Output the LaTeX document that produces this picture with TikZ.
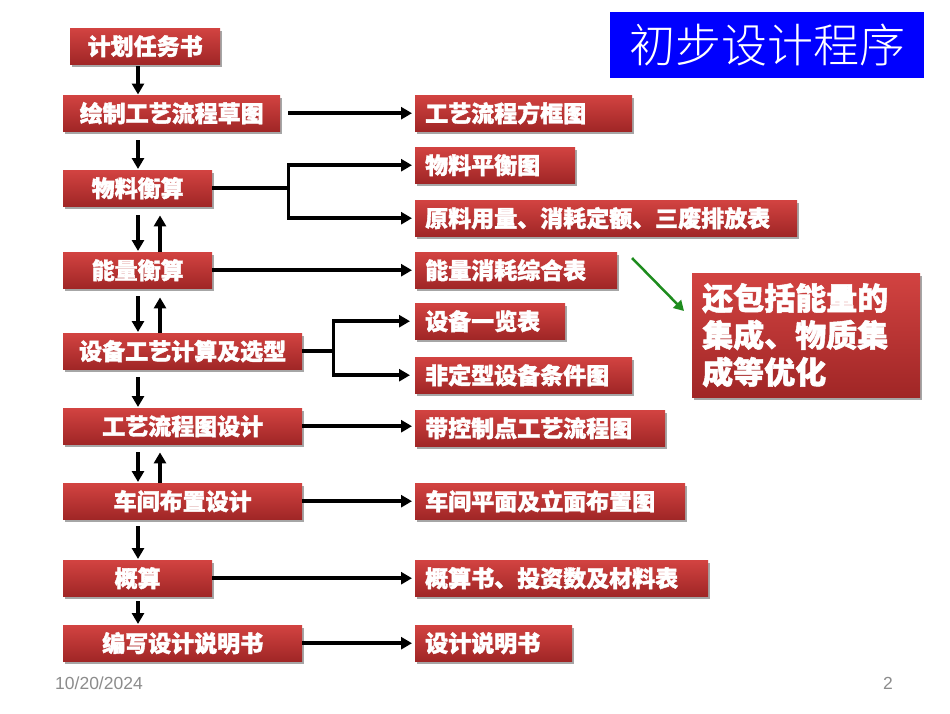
\documentclass[tikz,border=0pt]{standalone}
\usepackage{fontspec}
\newfontfamily\cjk{Noto Sans CJK SC}[BoldFeatures={FakeBold=1.6}]
\newfontfamily\cjklight{Noto Sans CJK SC Light}
\newfontfamily\datefont{Liberation Sans}
\usetikzlibrary{arrows.meta,shadows}
\definecolor{boxtop}{HTML}{D24341}
\definecolor{boxbot}{HTML}{A02626}
\definecolor{garrow}{HTML}{1E8C1E}
\definecolor{dategray}{HTML}{8C8C8C}
\begin{document}
\begin{tikzpicture}[x=1pt,y=-1pt,
  box/.style={rectangle, inner sep=0pt, minimum height=36pt, anchor=north west,
    top color=boxtop, bottom color=boxbot, draw=none,
    drop shadow={shadow xshift=1.5pt, shadow yshift=-2.5pt, opacity=0.35, fill=black},
    font=\cjk\bfseries\fontsize{23}{26}\selectfont, text=white},
  lbox/.style={box, minimum width=#1},
  rbox/.style={box, inner xsep=10pt, text width=#1, align=left},
  arr/.style={line width=3.5pt, -{Triangle[length=11pt,width=12pt]}},
  ln/.style={line width=3.5pt},
  garr/.style={line width=2.5pt, draw=garrow, -{Triangle[length=10pt,width=11pt]}}]
\useasboundingbox (0,0) rectangle (950,713);
\fill[white] (0,0) rectangle (950,713);

% title
\node[fill=blue, minimum width=314pt, minimum height=66pt, anchor=north west, inner sep=0pt,
  text=white, font=\cjklight\fontsize{46}{50}\selectfont] (t) at (610,12) {初步设计程序};

% left column
\node[lbox=150pt] (a1) at (70,28) {计划任务书};
\node[lbox=217pt] (a2) at (63,95) {绘制工艺流程草图};
\node[lbox=149pt] (a3) at (63,170) {物料衡算};
\node[lbox=149pt] (a4) at (63,252) {能量衡算};
\node[lbox=239pt] (a5) at (63,333) {设备工艺计算及选型};
\node[lbox=239pt] (a6) at (63,408) {工艺流程图设计};
\node[lbox=239pt] (a7) at (63,483) {车间布置设计};
\node[lbox=149pt] (a8) at (63,560) {概算};
\node[lbox=239pt] (a9) at (63,625) {编写设计说明书};

% right column
\node[rbox=197pt] (r1) at (415,95) {工艺流程方框图};
\node[rbox=140pt] (r2) at (415,147) {物料平衡图};
\node[rbox=362pt] (r3) at (415,200) {原料用量、消耗定额、三废排放表};
\node[rbox=182pt] (r4) at (415,252) {能量消耗综合表};
\node[rbox=130pt] (r5) at (415,303) {设备一览表};
\node[rbox=197pt] (r6) at (415,357) {非定型设备条件图};
\node[rbox=230pt] (r7) at (415,410) {带控制点工艺流程图};
\node[rbox=250pt] (r8) at (415,483) {车间平面及立面布置图};
\node[rbox=273pt] (r9) at (415,560) {概算书、投资数及材料表};
\node[rbox=137pt] (r10) at (415,625) {设计说明书};

% callout
\node[box, minimum width=228pt, minimum height=124pt, text width=208pt, inner xsep=10pt,
  align=left, font=\cjk\bfseries\fontsize{31}{37}\selectfont] (c) at (692,273)
  {还包括能量的\\集成、物质集\\成等优化};

% footer
\node[anchor=west, inner sep=0pt, text=dategray, font=\datefont\fontsize{17.5}{19}\selectfont] (d) at (55,683) {10/20/2024};
\node[anchor=center, inner sep=0pt, text=dategray, font=\datefont\fontsize{17.5}{19}\selectfont] (p) at (888,683) {2};

% vertical connectors
\coordinate (dx) at (138,0);
\coordinate (ux) at (160,0);
\draw[arr, shorten <=2pt, shorten >=0.5pt] (a1.south -| dx) -- (a2.north -| dx);
\draw[arr, shorten <=9pt, shorten >=1pt] (a2.south -| dx) -- (a3.north -| dx);
\draw[arr, shorten <=9pt, shorten >=1pt] (a3.south -| dx) -- (a4.north -| dx);
\draw[arr, shorten >=9pt] (a4.north -| ux) -- (a3.south -| ux);
\draw[arr, shorten <=8pt, shorten >=1pt] (a4.south -| dx) -- (a5.north -| dx);
\draw[arr, shorten >=9pt] (a5.north -| ux) -- (a4.south -| ux);
\draw[arr, shorten <=8pt, shorten >=1pt] (a5.south -| dx) -- (a6.north -| dx);
\draw[arr, shorten <=8pt, shorten >=1pt] (a6.south -| dx) -- (a7.north -| dx);
\draw[arr, shorten >=8pt] (a7.north -| ux) -- (a6.south -| ux);
\draw[arr, shorten <=7pt, shorten >=1pt] (a7.south -| dx) -- (a8.north -| dx);
\draw[arr, shorten <=5pt, shorten >=1pt] (a8.south -| dx) -- (a9.north -| dx);

% horizontal connectors
\draw[arr, shorten <=8pt, shorten >=3pt] (a2.east) -- (r1.west);
\draw[ln] (a3.east) -- ++(76,0) coordinate (b1);
\draw[arr, shorten >=3pt] (b1) |- (r2.west);
\draw[arr, shorten >=3pt] (b1) |- (r3.west);
\draw[arr, shorten >=3pt] (a4.east) -- (a4.east -| r4.west);
\draw[ln] (a5.east) -- ++(31,0) coordinate (b2);
\draw[arr, shorten >=5pt] (b2) |- (r5.west);
\draw[arr, shorten >=5pt] (b2) |- (r6.west);
\draw[arr, shorten >=3pt] (a6.east) -- (a6.east -| r7.west);
\draw[arr, shorten >=3pt] (a7.east) -- (a7.east -| r8.west);
\draw[arr, shorten >=3pt] (a8.east) -- (a8.east -| r9.west);
\draw[arr, shorten >=3pt] (a9.east) -- (a9.east -| r10.west);

% green arrow
\coordinate (g1) at (632,258);
\coordinate (g2) at (684,311);
\draw[garr] (g1) -- (g2);
\end{tikzpicture}
\end{document}
